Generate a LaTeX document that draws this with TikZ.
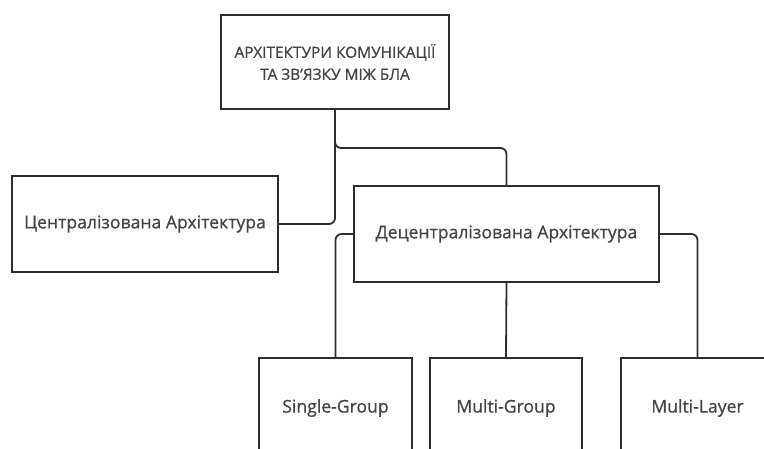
\documentclass[tikz,border=0pt]{standalone}
\usepackage{fontspec}
\setmainfont{Open Sans}[FakeBold=0.7]
\definecolor{boxline}{HTML}{2E2E2E}
\definecolor{txt}{HTML}{444444}
\tikzset{
  box/.style={draw=boxline, line width=1.8pt, fill=white, text=txt, align=center, inner sep=0pt, font=\fontsize{17.6}{21}\selectfont},
  link/.style={draw=boxline, line width=1.8pt, rounded corners=6pt}
}
\begin{document}
\begin{tikzpicture}[x=1pt,y=-1pt]
\clip (0,0) rectangle (764,448);
\fill[white] (0,0) rectangle (764,448);
\coordinate (j) at (335,148);
\node[box, minimum width=228pt, minimum height=94pt, font=\fontsize{15.4}{22}\selectfont] (top) at (335,62) {АРХІТЕКТУРИ КОМУНІКАЦІЇ\\ТА ЗВ’ЯЗКУ МІЖ БЛА};
\node[box, minimum width=266pt, minimum height=96pt] (central) at (145,224) {Централізована Архітектура};
\node[box, minimum width=305pt, minimum height=96pt] (dec) at (506.5,234) {Децентралізована Архітектура};
\node[box, minimum width=153pt, minimum height=100pt] (single) at (335.5,408) {Single-Group};
\node[box, minimum width=152pt, minimum height=100pt] (multig) at (506,408) {Multi-Group};
\node[box, minimum width=153pt, minimum height=100pt] (multil) at (697.5,408) {Multi-Layer};
\draw[link] (top.south) |- (central.east);
\draw[link] (top.south) -- (j) -| (dec.north);
\draw[link] (dec.west) -| (single.north);
\draw[link] (dec.south) -- (multig.north);
\draw[link] (dec.east) -| (multil.north);
\end{tikzpicture}
\end{document}
